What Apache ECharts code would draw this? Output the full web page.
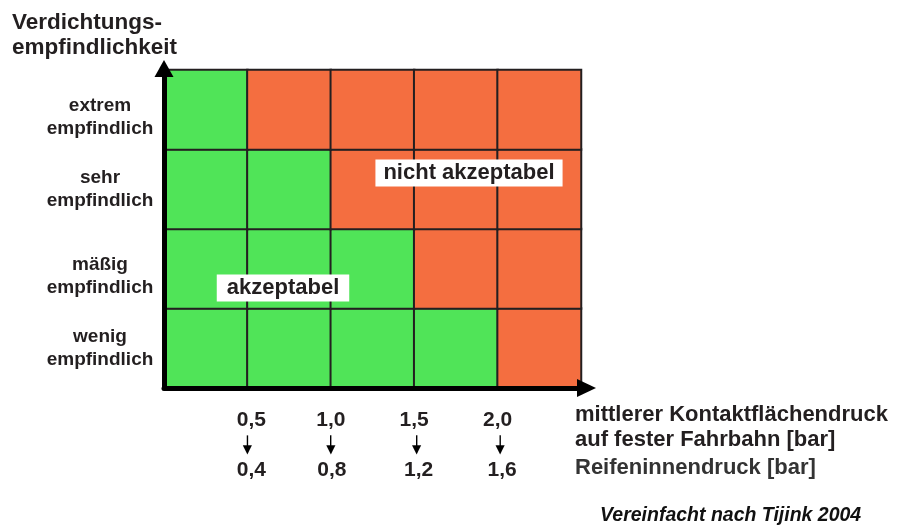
<!DOCTYPE html>
<html>
<head>
<meta charset="utf-8">
<script src="https://cdn.jsdelivr.net/npm/echarts@6/dist/echarts.min.js"></script>
<style>
    html, body { margin: 0; padding: 0; background: #fff; }
    #main { width: 904px; height: 525px; }
</style>
</head>
<body>
<div id="main"></div>
<script>
'use strict';
// Zeilen von unten nach oben
var sensitivity = ['wenig\nempfindlich', 'mäßig\nempfindlich', 'sehr\nempfindlich', 'extrem\nempfindlich'];
var pressureClasses = ['p1', 'p2', 'p3', 'p4', 'p5'];
// Grenzen zwischen den Klassen
var contactPressure = [0.5, 1.0, 1.5, 2.0];
var tyrePressure = [0.4, 0.8, 1.2, 1.6];
// 1 = nicht akzeptabel, 0 = akzeptabel
var ratingWenig = [0, 0, 0, 0, 1];
var ratingMaessig = [0, 0, 0, 1, 1];
var ratingSehr = [0, 0, 1, 1, 1];
var ratingExtrem = [0, 1, 1, 1, 1];

var fontName = '"Liberation Sans", Arial, sans-serif';
var symbolFont = '"DejaVu Sans", sans-serif';
var textColor = '#231f20';

function buildData() {
    var rows = [ratingWenig, ratingMaessig, ratingSehr, ratingExtrem];
    var data = [];
    rows.forEach(function (row, y) {
        row.forEach(function (v, x) {
            data.push([x, y, v]);
        });
    });
    return data;
}

function germanNumber(v) {
    return v.toFixed(1).replace('.', ',');
}

// rich-Stile je Grenze (im Original leicht versetzt gesetzt)
var topKeys = ['a0', 'a', 'a', 'a'];
var arrowKeys = ['', '', '2', '2'];
var bottomKeys = ['c0', 'c', 'c2', 'c2'];

// Beschriftung an den Klassengrenzen: Kontaktflächendruck, Pfeil, Reifeninnendruck
function boundaryLabel(value) {
    for (var i = 0; i < contactPressure.length; i++) {
        if (Math.abs(value - 0.5 * (i + 1)) < 1e-6) {
            return '{' + topKeys[i] + '|' + germanNumber(contactPressure[i]) + '}\n' +
                '{s' + arrowKeys[i] + '|\u2503}\n' +
                '{h' + arrowKeys[i] + '|\u25bc}\n' +
                '{' + bottomKeys[i] + '|' + germanNumber(tyrePressure[i]) + '}';
        }
    }
    return '';
}

// im Original sitzen die Beschriftungen der 2. und 4. Zeile etwas tiefer
function sensitivityLabel(value, index) {
    var key = index % 2 === 1 ? 'low' : 'n';
    return value.split('\n').map(function (line) {
        return '{' + key + '|' + line + '}';
    }).join('\n');
}

var numStyle = {fontSize: 21, fontWeight: 'bold', color: textColor, fontFamily: fontName, lineHeight: 34};
var stemStyle = {fontSize: 9, color: '#000', lineHeight: 9, fontFamily: symbolFont};
var headStyle = {fontSize: 12, color: '#000', lineHeight: 7, fontFamily: symbolFont};
var rowLabelStyle = {fontSize: 19, fontWeight: 'bold', lineHeight: 23, color: textColor, fontFamily: fontName};

function withPadding(style, left) {
    return echarts.util.extend({padding: [0, 0, 0, left]}, style);
}

var myChart = echarts.init(document.getElementById('main'), null, {renderer: 'canvas'});

var option = {
    backgroundColor: '#fff',
    animation: false,
    textStyle: {fontFamily: fontName},
    grid: {left: 164, right: 323, top: 70, bottom: 137},
    visualMap: {
        type: 'piecewise',
        show: false,
        dimension: 2,
        pieces: [
            {value: 0, color: '#50e458'},
            {value: 1, color: '#f46e40'}
        ]
    },
    xAxis: [{
        type: 'category',
        data: pressureClasses,
        z: 5,
        axisLine: {
            show: true,
            symbol: ['none', 'triangle'],
            symbolSize: [18, 19],
            symbolOffset: [0, 5.5],
            lineStyle: {color: '#000', width: 5}
        },
        axisTick: {show: false},
        axisLabel: {show: false},
        splitLine: {show: false}
    }, {
        type: 'value',
        position: 'bottom',
        min: 0,
        max: 2.5,
        interval: 0.5,
        axisLine: {show: false},
        axisTick: {show: false},
        splitLine: {show: false},
        axisLabel: {
            margin: 15,
            formatter: boundaryLabel,
            rich: {
                a0: withPadding(numStyle, 8),
                a: numStyle,
                s: stemStyle,
                h: headStyle,
                s2: withPadding(stemStyle, 5),
                h2: withPadding(headStyle, 5),
                c0: withPadding(numStyle, 8),
                c: withPadding(numStyle, 2),
                c2: withPadding(numStyle, 9)
            }
        }
    }],
    yAxis: {
        type: 'category',
        data: sensitivity,
        z: 5,
        axisLine: {
            show: true,
            symbol: ['none', 'triangle'],
            symbolSize: [19, 17],
            symbolOffset: [0, 1.5],
            lineStyle: {color: '#000', width: 5}
        },
        axisTick: {show: false},
        splitLine: {show: false},
        axisLabel: {
            align: 'center',
            margin: 64,
            formatter: sensitivityLabel,
            rich: {
                n: rowLabelStyle,
                low: echarts.util.extend({padding: [16, 0, 0, 0]}, rowLabelStyle)
            }
        }
    },
    series: [{
        type: 'heatmap',
        xAxisIndex: 0,
        data: buildData(),
        itemStyle: {borderColor: textColor, borderWidth: 2},
        emphasis: {disabled: true},
        label: {show: false}
    }],
    graphic: [
        {
            type: 'text', left: 12, top: 10,
            style: {
                text: 'Verdichtungs-\nempfindlichkeit',
                font: 'bold 22.5px ' + fontName,
                lineHeight: 25,
                fill: textColor
            }
        },
        {
            type: 'text', x: 575, y: 415,
            style: {text: 'mittlerer Kontaktflächendruck', font: 'bold 22px ' + fontName, fill: textColor, verticalAlign: 'middle'}
        },
        {
            type: 'text', x: 575, y: 440,
            style: {text: 'auf fester Fahrbahn [bar]', font: 'bold 22px ' + fontName, fill: textColor, verticalAlign: 'middle'}
        },
        {
            type: 'text', x: 575, y: 468,
            style: {text: 'Reifeninnendruck [bar]', font: 'bold 22px ' + fontName, fill: '#333', verticalAlign: 'middle'}
        },
        {
            type: 'text', x: 600, y: 516,
            style: {text: 'Vereinfacht nach Tijink 2004', font: 'italic bold 19.5px ' + fontName, fill: '#111', verticalAlign: 'middle'}
        },
        // Bereichsbeschriftungen
        {
            type: 'text', x: 469, y: 173, z: 10,
            style: {
                text: 'nicht akzeptabel', font: 'bold 22px ' + fontName, fill: textColor,
                align: 'center', verticalAlign: 'middle',
                backgroundColor: '#fff', padding: [3, 8, 2, 8]
            }
        },
        {
            type: 'text', x: 283, y: 288, z: 10,
            style: {
                text: 'akzeptabel', font: 'bold 22px ' + fontName, fill: textColor,
                align: 'center', verticalAlign: 'middle',
                backgroundColor: '#fff', padding: [3, 10, 2, 10]
            }
        }
    ]
};

myChart.setOption(option);
</script>
</body>
</html>
